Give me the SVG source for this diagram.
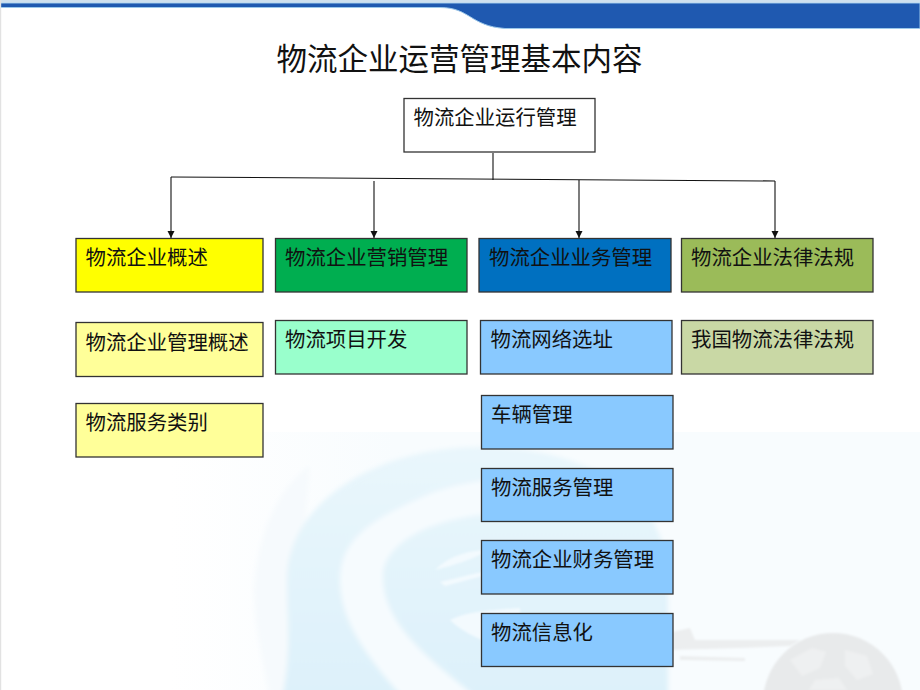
<svg xmlns="http://www.w3.org/2000/svg" width="920" height="690" viewBox="0 0 920 690">
<style>
text{font-family:"Noto Sans CJK SC","Noto Sans",sans-serif;fill:#111}
.t{font-size:20.4px}
.n{stroke:#333;stroke-width:1.3}
.c{stroke:#111;stroke-width:1.1;fill:none}
.a{marker-end:url(#arrow)}
</style>
<defs>
<marker id="arrow" markerUnits="userSpaceOnUse" markerWidth="8" markerHeight="8" refX="7" refY="3.500" orient="auto"><path d="M0 0L7 3.500L0 7Z" fill="#111"/></marker>
<linearGradient id="bg" x1="0" y1="0" x2="1" y2="0"><stop offset="0" stop-color="#fff"/><stop offset=".3" stop-color="#f8fcfe"/><stop offset="1" stop-color="#f8fcfe"/></linearGradient>
<linearGradient id="sw" x1="0" y1="0" x2="0" y2="1"><stop offset="0" stop-color="#e9f6fc"/><stop offset="1" stop-color="#ddf1fa"/></linearGradient>
<filter id="soft" x="-5%" y="-5%" width="110%" height="110%"><feGaussianBlur stdDeviation="2.500"/></filter>
<filter id="soft2" x="-5%" y="-5%" width="110%" height="110%"><feGaussianBlur stdDeviation="1"/></filter>
<clipPath id="bottom"><rect x="0" y="432" width="920" height="258"/></clipPath>
</defs>
<rect width="920" height="690" fill="#fff"/>
<g id="background">
<rect x="170" y="432" width="750" height="258" fill="url(#bg)"/>
<g clip-path="url(#bottom)">
<g filter="url(#soft)">
<path d="M254 590C256 540 275 490 310 465L290 700H270C260 650 254 620 254 590Z" fill="#f6fafd"/>
<path d="M287 580C287 500 380 447 480 447C580 447 668 490 668 580V700H282C292 650 287 620 287 580Z" fill="url(#sw)"/>
<path d="M668 480C560 476 480 470 420 498C370 520 340 540 340 580C340 620 365 655 405 700H480C430 660 383 625 383 577C383 540 440 512 520 513C580 513 640 512 668 512Z" fill="#f6fbfe"/>
</g>
<g filter="url(#soft2)">
<path d="M435 570C450 555 470 550 490 550C470 560 455 565 435 570ZM440 582L490 570V574L445 586ZM450 620C470 610 500 610 520 608V650C490 645 465 635 450 620Z" fill="#f3fafe"/>
<path d="M668 633L690 628L695 640L800 640L790 646L740 648L668 650ZM680 656L745 658L745 661L680 660Z" fill="#eceeef"/>
<circle cx="833" cy="703" r="70" fill="#e8eaeb"/>
<path d="M790 660l22-12 14 4-6 16-18 8zM845 650l22 6 6 18-16 6-12-14zM815 680l24-2 8 12h-38z" fill="#eef0f1"/>
</g>
</g>
</g>
<g id="banner">
<rect x="0" y="0" width="920" height="2.500" fill="#cfe0ee"/>
<path d="M0 3H920V28.500H505C470 26 470 7.500 440 7.500H0Z" fill="#1f59b0" stroke="#9cc8ea" stroke-width="1"/>
<rect x="0" y="0" width="1.200" height="690" fill="#e2e2e2"/>
</g>
<text id="title" x="276.500" y="69.500" font-size="30.500">物流企业运营管理基本内容</text>
<g id="connectors">
<path class="c" d="M493 153V180"/>
<path class="c" d="M171 177L775 181"/>
<path class="c a" d="M171 177V238"/>
<path class="c a" d="M374 181V238"/>
<path class="c a" d="M579 180V238"/>
<path class="c a" d="M775 181V238"/>
</g>
<g id="root"><rect class="n" x="404" y="98.500" width="191" height="53.500" fill="#fff"/><text class="t" x="413.500" y="124.500">物流企业运行管理</text></g>
<g id="n1"><rect class="n" x="76" y="238.500" width="187" height="53.500" fill="#ffff00"/><text class="t" x="85.500" y="264.500">物流企业概述</text></g>
<g id="n2"><rect class="n" x="275.500" y="238.500" width="191.500" height="53.500" fill="#00ae50"/><text class="t" x="285" y="264.500">物流企业营销管理</text></g>
<g id="n3"><rect class="n" x="479" y="238.500" width="192" height="53.500" fill="#0070c0"/><text class="t" x="489" y="264.500">物流企业业务管理</text></g>
<g id="n4"><rect class="n" x="681.500" y="238.500" width="191.500" height="53.500" fill="#9bbb59"/><text class="t" x="691" y="264.500">物流企业法律法规</text></g>
<g id="n5"><rect class="n" x="76" y="322.500" width="187" height="54" fill="#ffff99"/><text class="t" x="85.500" y="349.500">物流企业管理概述</text></g>
<g id="n6"><rect class="n" x="275.500" y="320.500" width="191.500" height="53.500" fill="#99ffcc"/><text class="t" x="285" y="346.500">物流项目开发</text></g>
<g id="n7"><rect class="n" x="480.500" y="320.500" width="191.500" height="53.500" fill="#89c9ff"/><text class="t" x="490.500" y="346.500">物流网络选址</text></g>
<g id="n8"><rect class="n" x="681.500" y="320.500" width="191.500" height="53.500" fill="#c9d8a5"/><text class="t" x="691" y="346.500">我国物流法律法规</text></g>
<g id="n9"><rect class="n" x="76" y="403.500" width="187" height="53.500" fill="#ffff99"/><text class="t" x="85.500" y="429.500">物流服务类别</text></g>
<g id="n10"><rect class="n" x="481.500" y="395.500" width="191.500" height="53.500" fill="#89c9ff"/><text class="t" x="491" y="421.500">车辆管理</text></g>
<g id="n11"><rect class="n" x="481.500" y="468.500" width="191.500" height="53" fill="#89c9ff"/><text class="t" x="491" y="494.500">物流服务管理</text></g>
<g id="n12"><rect class="n" x="481.500" y="540.500" width="191.500" height="53.500" fill="#89c9ff"/><text class="t" x="491" y="566.500">物流企业财务管理</text></g>
<g id="n13"><rect class="n" x="481.500" y="613.500" width="191.500" height="53" fill="#89c9ff"/><text class="t" x="491" y="639.500">物流信息化</text></g>
</svg>
